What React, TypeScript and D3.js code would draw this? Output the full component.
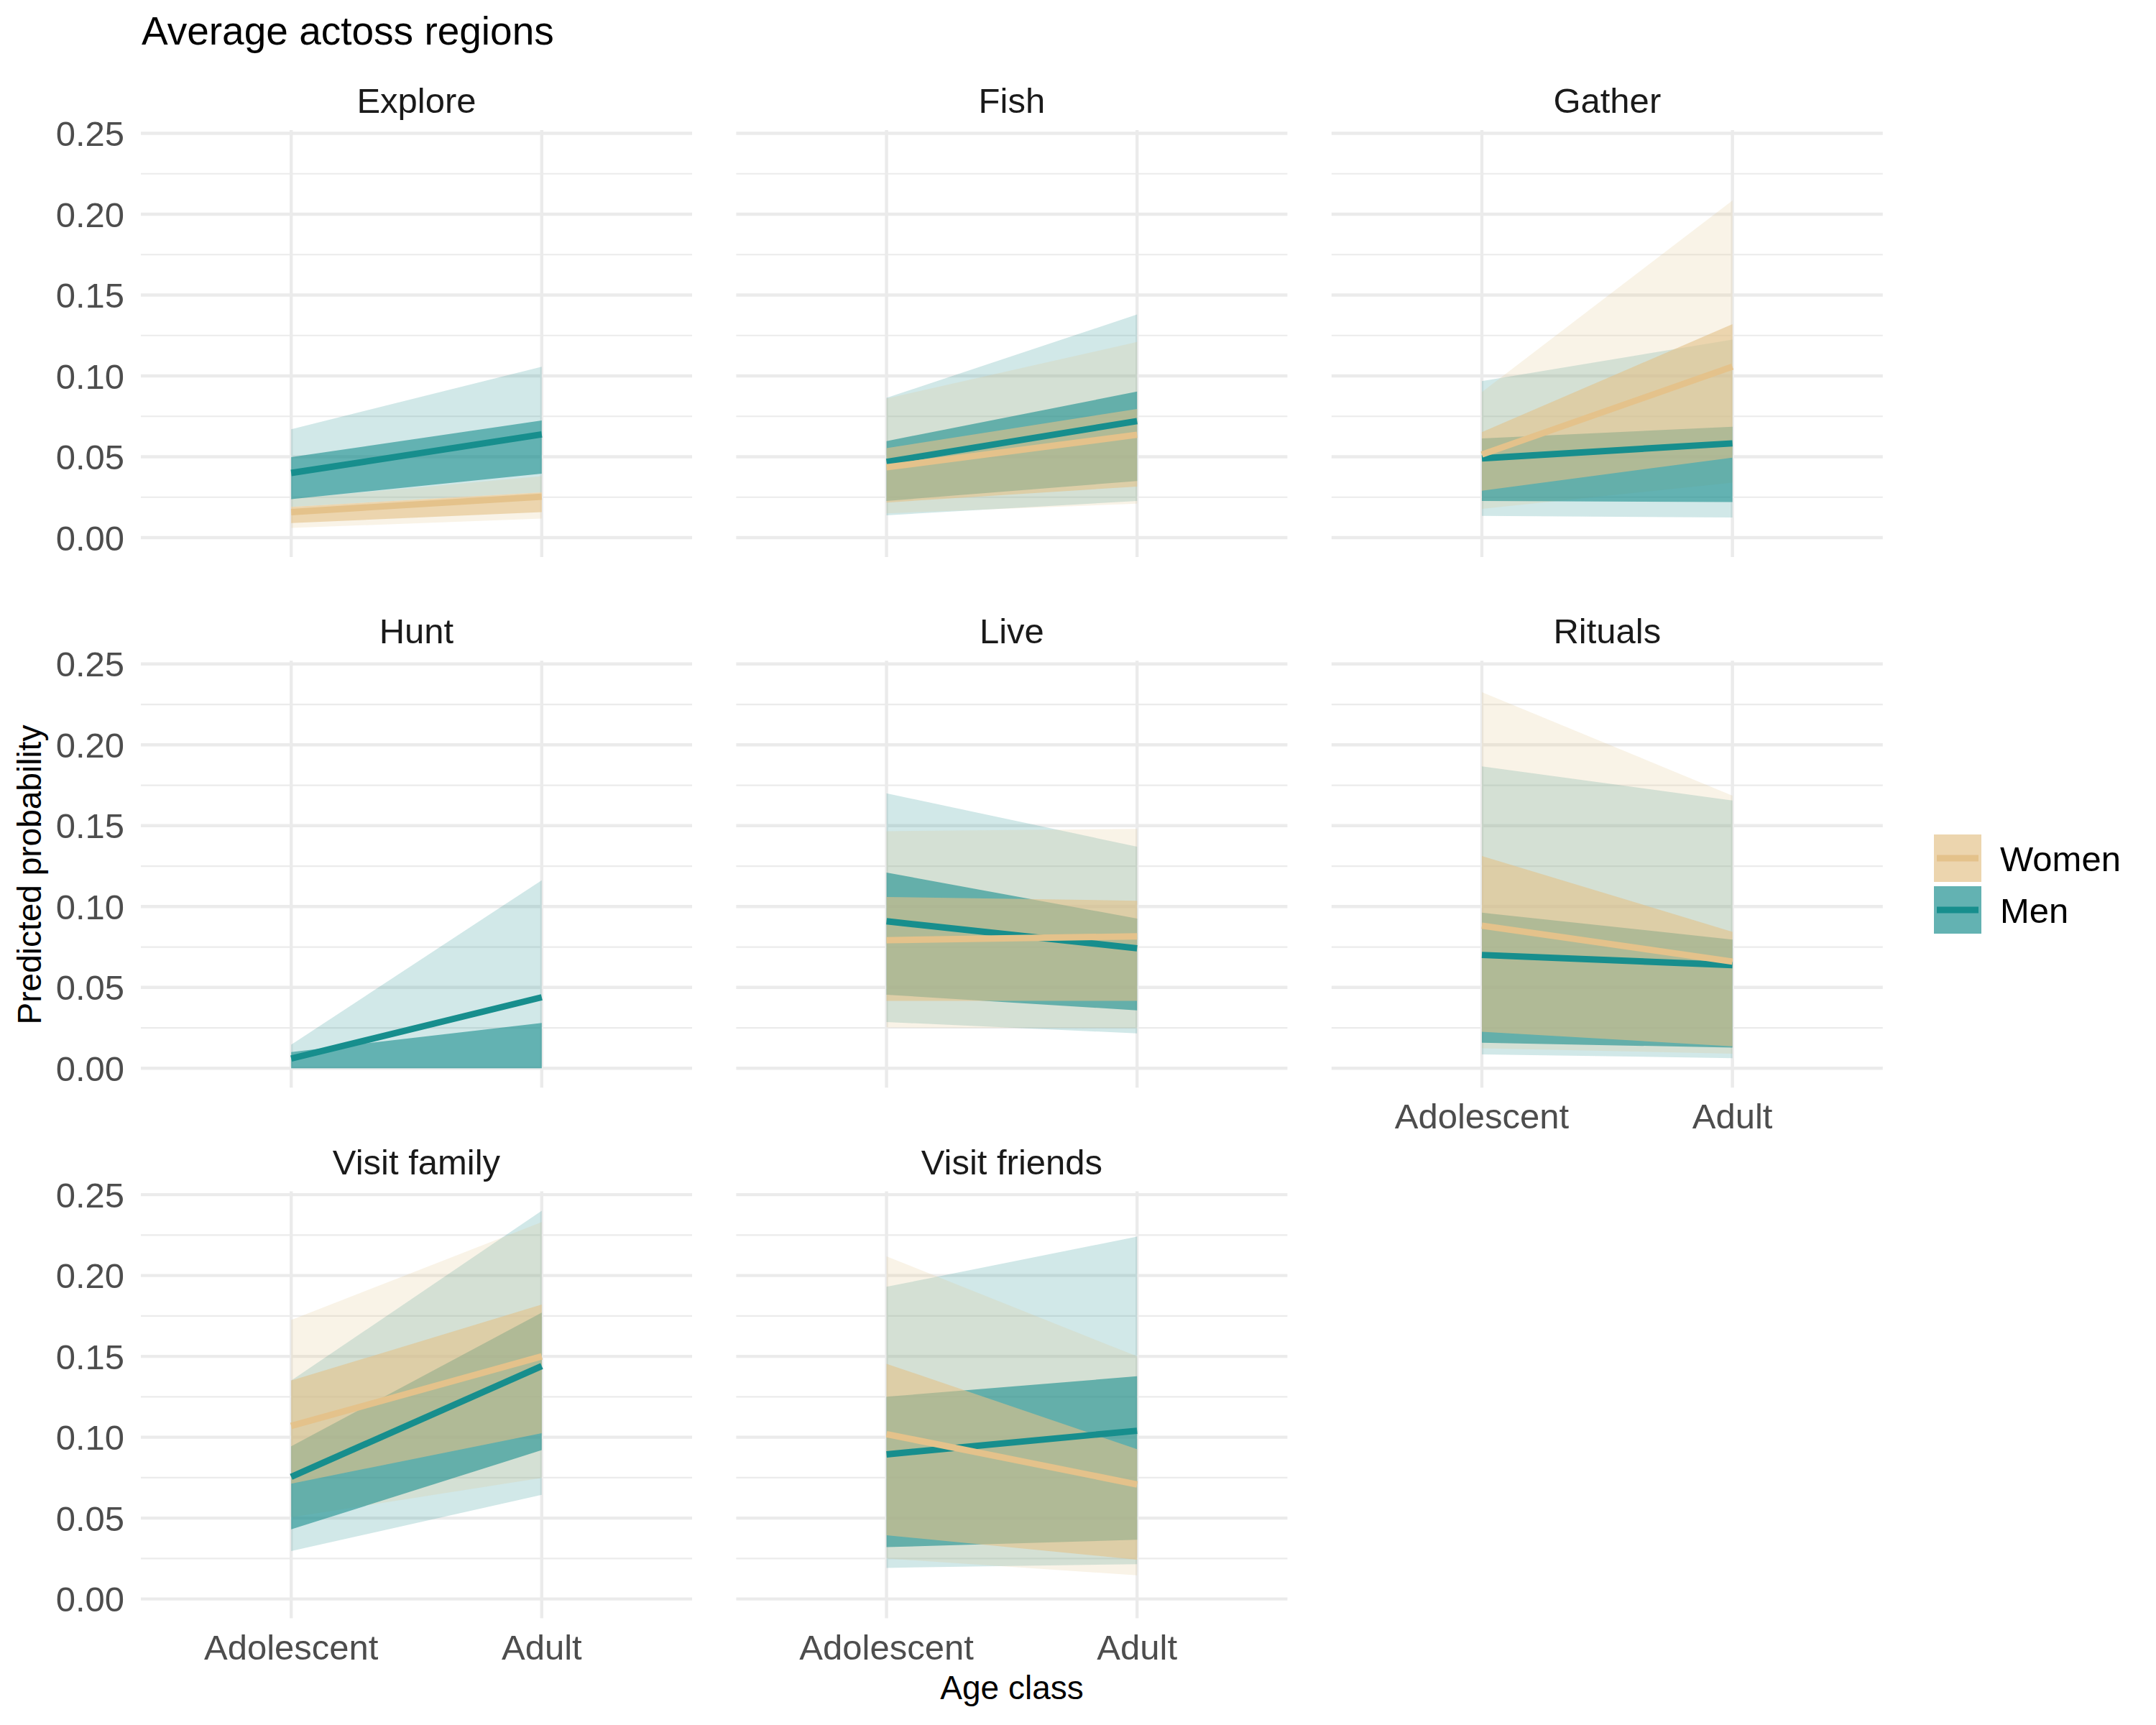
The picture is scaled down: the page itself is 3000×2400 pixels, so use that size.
import * as d3 from "d3";

// facet order (reading order, 3 columns)
const activities = ["Explore", "Fish", "Gather", "Hunt", "Live", "Rituals", "Visit family", "Visit friends"];
const ageClasses = ["Adolescent", "Adult"];
const sexes = ["Women", "Men"];
const yTicks = [0, 0.05, 0.1, 0.15, 0.2, 0.25];
const yMinorTicks = [0.025, 0.075, 0.125, 0.175, 0.225];

// each entry: [Adolescent, Adult]
const menMean = [[0.040, 0.0638], [0.0468, 0.0721], [0.049, 0.0583], [0.006, 0.0439], [0.0909, 0.0742], [0.0701, 0.0638], [0.0755, 0.144], [0.0894, 0.104]];
const menLo50 = [[0.0238, 0.0396], [0.0227, 0.035], [0.0227, 0.022], [0, 0], [0.0455, 0.0358], [0.0158, 0.0128], [0.043, 0.092], [0.032, 0.0366]];
const menHi50 = [[0.0498, 0.0724], [0.0597, 0.0903], [0.0613, 0.0686], [0.010, 0.028], [0.121, 0.0926], [0.0962, 0.0796], [0.0944, 0.177], [0.125, 0.1377]];
const menLo95 = [[0.019, 0.028], [0.0138, 0.0227], [0.0134, 0.0124], [0, 0], [0.0286, 0.0216], [0.0086, 0.0063], [0.0296, 0.0644], [0.0192, 0.0215]];
const menHi95 = [[0.067, 0.1057], [0.0864, 0.138], [0.0968, 0.1225], [0.0146, 0.1163], [0.170, 0.137], [0.1867, 0.1656], [0.135, 0.240], [0.193, 0.224]];

const womenMean = [[0.0158, 0.0253], [0.0435, 0.0636], [0.0514, 0.1057], null, [0.0792, 0.0816], [0.0882, 0.066], [0.107, 0.15], [0.1019, 0.0708]];
const womenLo50 = [[0.009, 0.0158], [0.0217, 0.0316], [0.029, 0.0495], null, [0.0417, 0.0417], [0.0226, 0.0136], [0.0713, 0.1025], [0.0394, 0.0243]];
const womenHi50 = [[0.019, 0.028], [0.0553, 0.0796], [0.0652, 0.132], null, [0.1059, 0.1036], [0.1312, 0.0844], [0.135, 0.182], [0.1454, 0.0926]];
const womenLo95 = [[0.006, 0.0118], [0.015, 0.021], [0.0178, 0.034], null, [0.0252, 0.0248], [0.0124, 0.009], [0.0505, 0.0748], [0.025, 0.0146]];
const womenHi95 = [[0.024, 0.038], [0.086, 0.121], [0.090, 0.2085], null, [0.1466, 0.148], [0.2326, 0.1686], [0.1725, 0.233], [0.2118, 0.15]];

const colors: Record<string, string> = { Women: "#e2c189", Men: "#198e8d" };
const lineColors: Record<string, string> = { Women: "#e4c28b", Men: "#178e8d" };

const W = 3000;
const H = 2400;
const panelLeft = 196;
const panelTop = 181;
const panelW = 767;
const panelH = 594;
const colStep = 828.4;
const rowStep = 738.3;
const nCol = 3;
const font = "'Liberation Sans', Arial, Helvetica, sans-serif";

type Pt = { age: string; lo: number; hi: number; mid: number };

function series(sex: string, i: number) {
  const m = sex === "Men";
  const mean = (m ? menMean : womenMean)[i];
  if (!mean) return null;
  const lo50 = (m ? menLo50 : womenLo50)[i]!;
  const hi50 = (m ? menHi50 : womenHi50)[i]!;
  const lo95 = (m ? menLo95 : womenLo95)[i]!;
  const hi95 = (m ? menHi95 : womenHi95)[i]!;
  const inner: Pt[] = ageClasses.map((a, k) => ({ age: a, lo: lo50[k], hi: hi50[k], mid: mean[k] }));
  const outer: Pt[] = ageClasses.map((a, k) => ({ age: a, lo: lo95[k], hi: hi95[k], mid: mean[k] }));
  return { inner, outer };
}

export default function App() {
  // y range from data with ggplot's 5% expansion
  const all = [...menLo95.flat(), ...menHi95.flat(), ...womenLo95.flat(), ...womenHi95.flat()].filter(
    (v) => v != null
  ) as number[];
  const lo = Math.min(0, d3.min(all)!);
  const hi = d3.max(all)!;
  const pad = (hi - lo) * 0.05;

  const x = d3.scalePoint<string>().domain(ageClasses).range([0, panelW]).padding(0.6);
  const y = d3.scaleLinear().domain([lo - pad, hi + pad]).range([panelH, 0]);

  const area = d3
    .area<Pt>()
    .x((d) => x(d.age)!)
    .y0((d) => y(d.lo))
    .y1((d) => y(d.hi));
  const line = d3
    .line<Pt>()
    .x((d) => x(d.age)!)
    .y((d) => y(d.mid));

  // sex drawing order: men under women
  const drawOrder = ["Men", "Women"];

  return (
    <svg
      width={W}
      height={H}
      viewBox={`0 0 ${W} ${H}`}
      style={{ position: "absolute", left: 0, top: 0, background: "#fff" }}
      fontFamily={font}
    >
      <rect width={W} height={H} fill="#fff" />
      <text x={197} y={62} fontSize={55} fill="#000">
        Average actoss regions
      </text>

      {activities.map((act, i) => {
        const col = i % nCol;
        const row = Math.floor(i / nCol);
        const px = panelLeft + col * colStep;
        const py = panelTop + row * rowStep;
        const below = i + nCol >= activities.length; // last panel in its column
        const data = drawOrder.map((s) => ({ sex: s, d: series(s, i) }));
        return (
          <g key={act} transform={`translate(${px},${py})`}>
            {yMinorTicks.map((t) => (
              <line key={"m" + t} x1={0} x2={panelW} y1={y(t)} y2={y(t)} stroke="#ebebeb" strokeWidth={2.2} />
            ))}
            {yTicks.map((t) => (
              <line key={"M" + t} x1={0} x2={panelW} y1={y(t)} y2={y(t)} stroke="#ebebeb" strokeWidth={4.4} />
            ))}
            {ageClasses.map((a) => (
              <line key={a} x1={x(a)} x2={x(a)} y1={0} y2={panelH} stroke="#ebebeb" strokeWidth={4.4} />
            ))}

            {data.map(({ sex, d }) =>
              d ? <path key={"o" + sex} d={area(d.outer)!} fill={colors[sex]} fillOpacity={0.2} /> : null
            )}
            {data.map(({ sex, d }) =>
              d ? <path key={"i" + sex} d={area(d.inner)!} fill={colors[sex]} fillOpacity={0.6} /> : null
            )}
            {data.map(({ sex, d }) =>
              d ? (
                <path key={"l" + sex} d={line(d.inner)!} fill="none" stroke={lineColors[sex]} strokeWidth={8.9} />
              ) : null
            )}

            <text x={panelW / 2} y={-24} textAnchor="middle" fontSize={49} fill="#1a1a1a">
              {act}
            </text>

            {col === 0 &&
              yTicks.map((t) => (
                <text key={"t" + t} x={-23} y={y(t)} dy="0.36em" textAnchor="end" fontSize={49} fill="#4d4d4d">
                  {t.toFixed(2)}
                </text>
              ))}

            {below &&
              ageClasses.map((a) => (
                <text key={"x" + a} x={x(a)} y={panelH + 57} textAnchor="middle" fontSize={49} fill="#4d4d4d">
                  {a}
                </text>
              ))}
          </g>
        );
      })}

      <text x={1408} y={2364} textAnchor="middle" fontSize={46} fill="#000">
        Age class
      </text>
      <text transform="translate(57,1217) rotate(-90)" textAnchor="middle" fontSize={46} fill="#000">
        Predicted probability
      </text>

      {sexes.map((s, k) => {
        const ky = 1161 + k * 72;
        return (
          <g key={s}>
            <rect x={2691} y={ky} width={66} height={66} fill="#fff" />
            <rect x={2691} y={ky} width={66} height={66} fill={colors[s]} fillOpacity={0.2} />
            <rect x={2691} y={ky} width={66} height={66} fill={colors[s]} fillOpacity={0.6} />
            <line x1={2695} x2={2753} y1={ky + 33} y2={ky + 33} stroke={lineColors[s]} strokeWidth={8.9} />
            <text x={2783} y={ky + 33} dy="0.36em" fontSize={49} fill="#000">
              {s}
            </text>
          </g>
        );
      })}
    </svg>
  );
}
